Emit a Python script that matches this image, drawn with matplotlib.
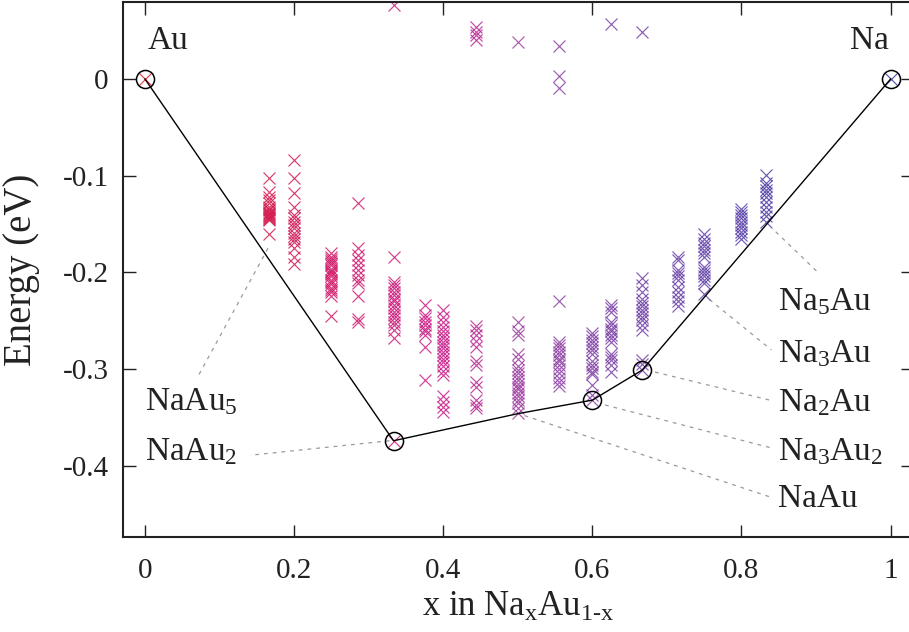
import numpy as np
import matplotlib
matplotlib.use("Agg")
import matplotlib.pyplot as plt
from matplotlib.colors import LinearSegmentedColormap

plt.rcParams['font.family'] = ['Liberation Serif', 'DejaVu Serif']
plt.rcParams['mathtext.fontset'] = 'custom'
plt.rcParams['mathtext.rm'] = 'Liberation Serif'
plt.rcParams['mathtext.it'] = 'Liberation Serif:italic'
plt.rcParams['mathtext.default'] = 'regular'
plt.rcParams['axes.unicode_minus'] = False

# formation energies (eV) of the sampled structures, per composition x in Na_xAu_(1-x)
e_Au = [0.0]
e_NaAu5 = [-0.102, -0.117, -0.122, -0.125, -0.128, -0.132, -0.134, -0.135, -0.137, -0.139,
           -0.140, -0.141, -0.142, -0.143, -0.144, -0.145, -0.146, -0.160]
e_NaAu4 = [-0.084, -0.102, -0.118, -0.132, -0.141, -0.144, -0.148, -0.151, -0.154, -0.159,
           -0.162, -0.165, -0.169, -0.175, -0.184, -0.191]
e_NaAu3 = [-0.180, -0.184, -0.186, -0.188, -0.190, -0.192, -0.196, -0.198, -0.200, -0.202,
           -0.204, -0.208, -0.210, -0.212, -0.216, -0.218, -0.220, -0.224, -0.245]
e_Na2Au5 = [-0.128, -0.175, -0.182, -0.187, -0.192, -0.197, -0.203, -0.208, -0.211, -0.224,
            -0.248, -0.251]
e_NaAu2 = [0.077, -0.184, -0.210, -0.213, -0.216, -0.220, -0.223, -0.227, -0.230, -0.234,
           -0.237, -0.241, -0.244, -0.247, -0.251, -0.254, -0.259, -0.268, -0.374]
e_Na3Au5 = [-0.234, -0.244, -0.247, -0.251, -0.254, -0.258, -0.261, -0.265, -0.277, -0.311]
e_Na2Au3 = [-0.239, -0.246, -0.251, -0.256, -0.261, -0.265, -0.268, -0.272, -0.275, -0.278,
            -0.282, -0.285, -0.289, -0.293, -0.297, -0.302, -0.306, -0.328, -0.334, -0.339,
            -0.344]
e_Na4Au5 = [0.054, 0.049, 0.045, 0.040, -0.255, -0.260, -0.265, -0.271, -0.277, -0.292,
            -0.296, -0.313, -0.318, -0.332, -0.337, -0.340]
e_NaAu = [0.038, -0.251, -0.261, -0.265, -0.284, -0.289, -0.297, -0.301, -0.304, -0.308,
          -0.311, -0.315, -0.318, -0.321, -0.325, -0.328, -0.332, -0.335, -0.340, -0.345]
e_Na5Au4 = [0.034, 0.003, -0.009, -0.230, -0.272, -0.275, -0.278, -0.282, -0.285, -0.289,
            -0.292, -0.296, -0.300, -0.304, -0.309, -0.313, -0.317]
e_Na3Au2 = [-0.263, -0.266, -0.270, -0.273, -0.277, -0.280, -0.284, -0.292, -0.296, -0.299,
            -0.303, -0.305, -0.316, -0.327, -0.332]
e_Na5Au3 = [0.057, -0.234, -0.237, -0.241, -0.251, -0.254, -0.258, -0.261, -0.265, -0.268,
            -0.272, -0.284, -0.287, -0.290, -0.296, -0.303]
e_Na2Au = [0.049, -0.206, -0.213, -0.220, -0.227, -0.232, -0.235, -0.239, -0.242, -0.246,
           -0.249, -0.254, -0.260, -0.290, -0.295, -0.301]
e_Na5Au2 = [-0.184, -0.187, -0.197, -0.201, -0.204, -0.208, -0.215, -0.220, -0.225, -0.230,
            -0.235]
e_Na3Au = [-0.160, -0.165, -0.170, -0.173, -0.177, -0.180, -0.184, -0.194, -0.197, -0.201,
           -0.204, -0.208, -0.211, -0.222]
e_Na4Au = [-0.134, -0.137, -0.141, -0.144, -0.148, -0.151, -0.154, -0.158, -0.161, -0.165]
e_Na5Au = [-0.099, -0.108, -0.111, -0.115, -0.118, -0.122, -0.127, -0.132, -0.137, -0.142,
           -0.148]
e_Na = [0.0]

compositions = [(0, 1, e_Au), (1, 5, e_NaAu5), (1, 4, e_NaAu4), (1, 3, e_NaAu3),
                (2, 5, e_Na2Au5), (1, 2, e_NaAu2), (3, 5, e_Na3Au5), (2, 3, e_Na2Au3),
                (4, 5, e_Na4Au5), (1, 1, e_NaAu), (5, 4, e_Na5Au4), (3, 2, e_Na3Au2),
                (5, 3, e_Na5Au3), (2, 1, e_Na2Au), (5, 2, e_Na5Au2), (3, 1, e_Na3Au),
                (4, 1, e_Na4Au), (5, 1, e_Na5Au), (1, 0, e_Na)]

# convex hull
hull_x = [0, 1/3, 1/2, 3/5, 2/3, 1]
hull_e = [0.0, -0.374, -0.346, -0.332, -0.301, 0.0]
circle_x = [0, 1/3, 3/5, 2/3, 1]
circle_e = [0.0, -0.374, -0.332, -0.301, 0.0]

# label text, point the leader starts at, point it ends at
labels = ['NaAu$_5$', 'NaAu$_2$', 'NaAu', 'Na$_3$Au$_2$', 'Na$_2$Au', 'Na$_3$Au', 'Na$_5$Au']
lead_start = [(0.165, -0.175), (0.328, -0.374), (0.509, -0.348), (0.617, -0.337),
              (0.684, -0.303), (0.757, -0.228), (0.846, -0.158)]
lead_end = [(0.070, -0.309), (0.141, -0.389), (0.838, -0.432), (0.838, -0.381),
            (0.838, -0.332), (0.840, -0.280), (0.902, -0.1995)]
label_pos = [(0.0, -0.334), (0.0, -0.3855), (0.849, -0.434), (0.849, -0.3855),
             (0.849, -0.335), (0.849, -0.284), (0.849, -0.230)]

cmap = LinearSegmentedColormap.from_list(
    'nau', [(0.0, '#e3262e'), (0.17, '#d41e52'), (0.27, '#d01c70'), (0.42, '#c6208e'),
            (0.5, '#9e3ea0'), (0.62, '#7c42a6'), (0.75, '#6442a8'), (0.85, '#4c3ea6'),
            (1.0, '#3838a6')])

fig = plt.figure(figsize=(9.09, 6.32), dpi=100)
ax = fig.add_axes([122.6 / 909, (632 - 537) / 632, (913 - 122.6) / 909, (537 - 2) / 632])

for n_na, n_au, energies in compositions:
    x = n_na / (n_na + n_au)
    ax.plot([x] * len(energies), energies, 'x', color=cmap(x), markersize=8.5,
            markeredgewidth=0.85, alpha=0.85, zorder=2)

ax.plot(hull_x, hull_e, color='black', linewidth=1.0, zorder=3)
ax.plot(circle_x, circle_e, 'o', markerfacecolor='none', markeredgecolor='black',
        markersize=13, markeredgewidth=1.1, zorder=4)

for s, e, p, t in zip(lead_start, lead_end, label_pos, labels):
    ax.plot([s[0], e[0]], [s[1], e[1]], color='#9a9a9a', linewidth=0.9,
            linestyle=(0, (3, 4)), zorder=1)
    ax.text(p[0], p[1], t, fontsize=24, ha='left', va='center', color='#222222')

ax.text(0.004, 0.040, 'Au', fontsize=24, ha='left', va='center', color='#222222')
ax.text(0.998, 0.040, 'Na', fontsize=24, ha='right', va='center', color='#222222')

ax.set_xlim(-0.03, 1.03)
ax.set_ylim(-0.4735, 0.0796)
ax.set_xticks([0, 0.2, 0.4, 0.6, 0.8, 1])
ax.set_xticklabels(['0', '0.2', '0.4', '0.6', '0.8', '1'])
ax.set_yticks([0, -0.1, -0.2, -0.3, -0.4])
ax.set_yticklabels(['0', '-0.1', '-0.2', '-0.3', '-0.4'])
ax.tick_params(direction='in', top=True, right=True, length=9, width=1.0,
               labelsize=21, pad=15, colors='#222222')
ax.tick_params(axis='y', pad=10)
for sp in ax.spines.values():
    sp.set_linewidth(1.5)
    sp.set_color('#222222')

ax.set_xlabel(r'x in Na$_x$Au$_{1\text{-}x}$', fontsize=25, color='#222222', labelpad=5)
ax.set_ylabel('Energy (eV)', fontsize=28, color='#222222', labelpad=16)

fig.savefig('out.png', dpi=100)
